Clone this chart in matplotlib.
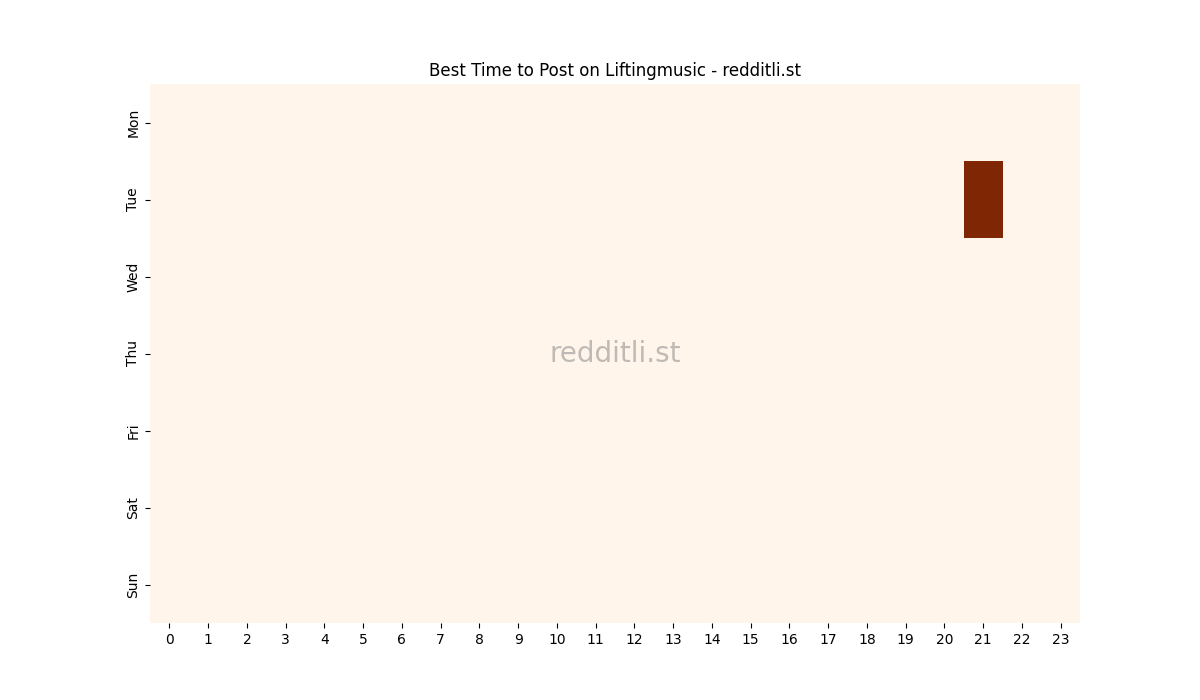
import matplotlib
matplotlib.use("Agg")
import matplotlib.pyplot as plt
import seaborn as sns
import numpy as np

days = ["Mon", "Tue", "Wed", "Thu", "Fri", "Sat", "Sun"]
hours = [str(h) for h in range(24)]
mon = [0]*24
tue = [0]*21 + [1] + [0]*2
wed = [0]*24
thu = [0]*24
fri = [0]*24
sat = [0]*24
sun = [0]*24

data = np.array([mon, tue, wed, thu, fri, sat, sun], dtype=float)

fig, ax = plt.subplots(figsize=(12, 7), dpi=100)
sns.heatmap(data, cmap="Oranges", cbar=False, ax=ax,
            xticklabels=hours, yticklabels=days)
ax.set_title("Best Time to Post on Liftingmusic - redditli.st")
ax.text(0.5, 0.5, "redditli.st", transform=ax.transAxes, ha="center", va="center",
        fontsize=20, color="gray", alpha=0.5)
plt.setp(ax.get_xticklabels(), rotation=0)
plt.setp(ax.get_yticklabels(), rotation=90, va="center")
fig.savefig("out.png")
